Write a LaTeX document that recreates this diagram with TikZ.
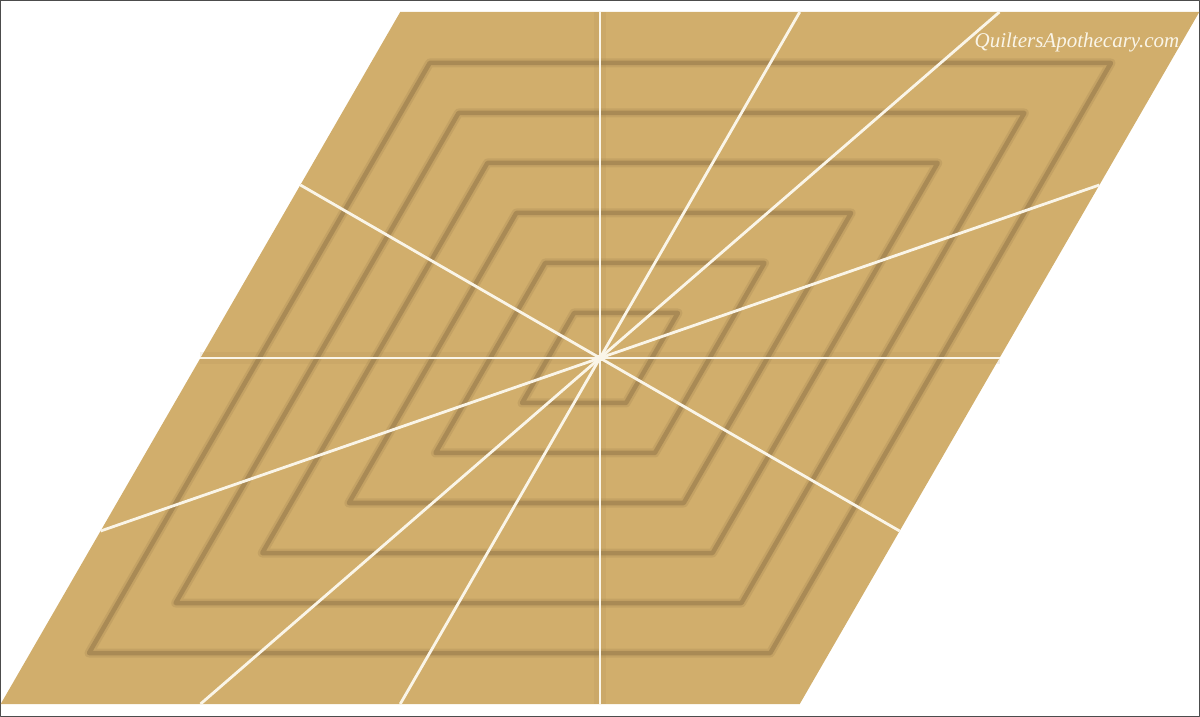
\documentclass[tikz,border=0pt]{standalone}
\usepackage{fontspec}
\newfontfamily\markfont{Liberation Serif}
\definecolor{cloth}{RGB}{209,174,108}
\definecolor{groovedark}{RGB}{160,130,80}
\definecolor{seam}{RGB}{250,245,232}

\begin{document}
\begin{tikzpicture}[x=1pt, y=1pt, line join=round,
	grooveblur/.style={draw=groovedark, line width=9pt, opacity=0.25},
	groove/.style={draw=groovedark, line width=4.5pt, opacity=0.75},
	seamshade/.style={draw=groovedark, line width=12pt, opacity=0.12},
	seamline/.style={draw=seam, line width=2.8pt}]

				\useasboundingbox (-600,-359) rectangle (600,358);
				\draw[gray!60!black, line width=1.5pt] (-599.25,-358.25) rectangle (599.25,357.25);

				% the diamond
				\fill[cloth] (-199.76,346) -- (599.29,346) -- (199.76,-346) -- (-599.29,-346) -- cycle;

				% grooves, innermost first
				\draw[grooveblur] (-0.57735*45,45) -- (1.73205*45,45) -- (0.57735*45,-45) -- (-1.73205*45,-45) -- cycle;
				\draw[groove] (-0.57735*45,45) -- (1.73205*45,45) -- (0.57735*45,-45) -- (-1.73205*45,-45) -- cycle;

				\draw[grooveblur] (-0.57735*95,95) -- (1.73205*95,95) -- (0.57735*95,-95) -- (-1.73205*95,-95) -- cycle;
				\draw[groove] (-0.57735*95,95) -- (1.73205*95,95) -- (0.57735*95,-95) -- (-1.73205*95,-95) -- cycle;

				\draw[grooveblur] (-0.57735*145,145) -- (1.73205*145,145) -- (0.57735*145,-145) -- (-1.73205*145,-145) -- cycle;
				\draw[groove] (-0.57735*145,145) -- (1.73205*145,145) -- (0.57735*145,-145) -- (-1.73205*145,-145) -- cycle;

				\draw[grooveblur] (-0.57735*195,195) -- (1.73205*195,195) -- (0.57735*195,-195) -- (-1.73205*195,-195) -- cycle;
				\draw[groove] (-0.57735*195,195) -- (1.73205*195,195) -- (0.57735*195,-195) -- (-1.73205*195,-195) -- cycle;

				\draw[grooveblur] (-0.57735*245,245) -- (1.73205*245,245) -- (0.57735*245,-245) -- (-1.73205*245,-245) -- cycle;
				\draw[groove] (-0.57735*245,245) -- (1.73205*245,245) -- (0.57735*245,-245) -- (-1.73205*245,-245) -- cycle;

				\draw[grooveblur] (-0.57735*295,295) -- (1.73205*295,295) -- (0.57735*295,-295) -- (-1.73205*295,-295) -- cycle;
				\draw[groove] (-0.57735*295,295) -- (1.73205*295,295) -- (0.57735*295,-295) -- (-1.73205*295,-295) -- cycle;

				% seams through the centre
				\coordinate (centre) at (0,0);
				\draw[seamshade] (0,346) -- (0,-346);
				\draw[seamshade] (-399.5,0) -- (399.5,0);

				\draw[seamline] (0,346) -- (centre) -- (0,-346);
				\draw[seamline] (-399.5,0) -- (centre) -- (399.5,0);
				\draw[seamline] (199.76,346) -- (centre) -- (-199.76,-346);
				\draw[seamline] (399.5,346) -- (centre) -- (-399.5,-346);
				\draw[seamline] (499.4,173) -- (centre) -- (-499.4,-173);
				\draw[seamline] (-299.6,173) -- (centre) -- (299.6,-173);
				\fill[seam] (centre) circle (3.5);

				\node[text=seam, font=\markfont\itshape\fontsize{21}{21}\selectfont] (mark) at (477,316) {QuiltersApothecary.com};

\end{tikzpicture}
\end{document}
